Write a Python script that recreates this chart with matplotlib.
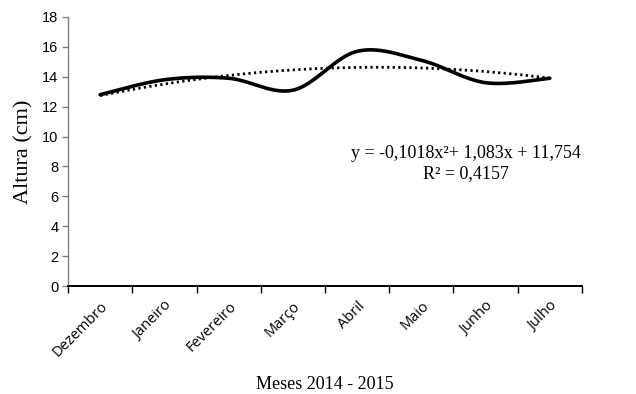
import numpy as np
import matplotlib.pyplot as plt

meses = ["Dezembro", "Janeiro", "Fevereiro", "Março", "Abril", "Maio", "Junho", "Julho"]
altura = [12.8, 13.8, 13.9, 13.1, 15.7, 15.1, 13.6, 13.9]
# polynomial trend (2nd order) as reported on the chart
coef = [-0.1018, 1.083, 11.754]
r2 = 0.4157


def smooth(xs, ys, n=40):
    # Catmull-Rom style bezier smoothing, like a spreadsheet "smoothed line"
    xs = np.asarray(xs, float)
    ys = np.asarray(ys, float)
    px = np.concatenate([[xs[0]], xs, [xs[-1]]])
    py = np.concatenate([[ys[0]], ys, [ys[-1]]])
    ox, oy = [], []
    t = np.linspace(0, 1, n)
    for i in range(1, len(px) - 2):
        p0 = np.array([px[i], py[i]])
        p3 = np.array([px[i + 1], py[i + 1]])
        c1 = p0 + (np.array([px[i + 1], py[i + 1]]) - np.array([px[i - 1], py[i - 1]])) / 6
        c2 = p3 - (np.array([px[i + 2], py[i + 2]]) - np.array([px[i], py[i]])) / 6
        b = ((1 - t) ** 3)[:, None] * p0 + (3 * (1 - t) ** 2 * t)[:, None] * c1 \
            + (3 * (1 - t) * t ** 2)[:, None] * c2 + (t ** 3)[:, None] * p3
        ox.extend(b[:, 0])
        oy.extend(b[:, 1])
    return np.array(ox), np.array(oy)


x = np.arange(len(meses))
sx, sy = smooth(x, altura)

fig = plt.figure(figsize=(6.36, 3.94), dpi=100)
ax = fig.add_axes([0.107, 0.274, 0.808, 0.683])

xt = np.linspace(0, len(meses) - 1, 200)
trend = np.polyval(coef, xt + 1)
ax.plot(xt, trend, color="black", linestyle=(0, (0.8, 1.2)), linewidth=2)
ax.plot(sx, sy, color="black", linewidth=2.6, solid_capstyle="round")

ax.set_xlim(-0.5, len(meses) - 0.5)
ax.set_ylim(0, 18)
ax.set_yticks(np.arange(0, 19, 2))
ax.set_xticks(x)
ax.set_xticklabels(meses, rotation=45, ha="right", rotation_mode="anchor",
                   fontsize=10.5, family="Open Sans")
ax.set_xticks(np.arange(-0.5, len(meses)), minor=True)
ax.tick_params(axis="x", which="major", length=0, pad=9)
ax.tick_params(axis="x", which="minor", length=5, width=1, color="black")
ax.tick_params(axis="y", length=4, width=1, color="#808080", labelsize=10.5, pad=3)
for lab in ax.get_yticklabels():
    lab.set_family("Liberation Sans")

for s in ["top", "right"]:
    ax.spines[s].set_visible(False)
ax.spines["left"].set_color("#808080")
ax.spines["left"].set_linewidth(1)
ax.spines["bottom"].set_color("black")
ax.spines["bottom"].set_linewidth(1.4)

ax.set_ylabel("Altura (cm)", family="Liberation Serif", fontsize=16, labelpad=6)
ax.set_xlabel("Meses 2014 - 2015", family="Liberation Serif", fontsize=13, labelpad=12)

eq = "y = {:.4f}x²+ {:.3f}x + {:.3f}\nR² = {:.4f}".format(coef[0], coef[1], coef[2], r2)
eq = eq.replace(".", ",")
ax.text(5.69, 8.2, eq, family="Liberation Serif", fontsize=13,
        ha="center", va="center", multialignment="center", linespacing=1.25)

fig.savefig("out.png", dpi=100)
